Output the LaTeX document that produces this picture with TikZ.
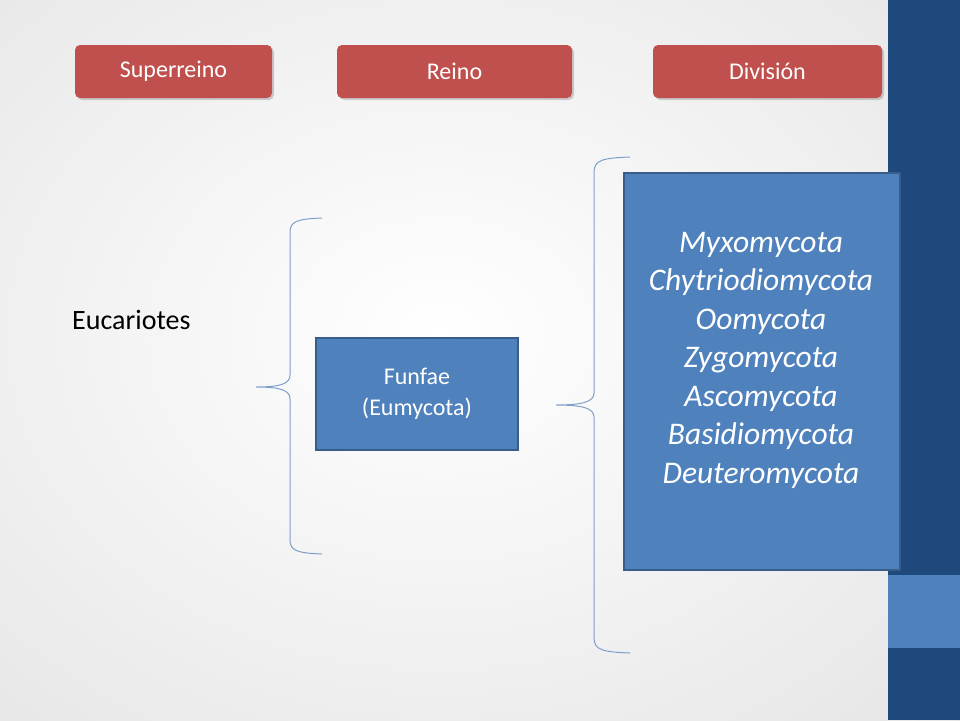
\documentclass[tikz,border=0pt]{standalone}
\usepackage{fontspec}
\setmainfont{Carlito}
\usetikzlibrary{shadows}

\definecolor{slidebar}{HTML}{1F497D}
\definecolor{slidelight}{HTML}{4F81BD}
\definecolor{headred}{HTML}{C0504D}
\definecolor{boxline}{HTML}{385D8A}
\definecolor{bracecol}{HTML}{7F9FCB}

\tikzset{
  header/.style={fill=headred, rounded corners=5pt, text=white, minimum height=53pt,
    font=\fontsize{24}{26}\selectfont, drop shadow={shadow xshift=2pt, shadow yshift=-2pt, opacity=0.35}},
  taxbox/.style={fill=slidelight, draw=boxline, line width=2pt, text=white, align=center},
  brace/.style={bracecol, line width=1pt},
}

\begin{document}
\begin{tikzpicture}[x=1pt,y=-1pt]

				% slide background
				\useasboundingbox (0,0) rectangle (960,720);
				\shade[inner color=white, outer color=black!12] (-420,-330) rectangle (1300,1000);
				\fill[slidebar] (888,0) rectangle (960,720);
				\fill[slidelight] (888,575) rectangle (960,648);

				% headers
				\node[header, minimum width=197pt] (super) at (173.5,71.5) {Superreino};
				\node[header, minimum width=235pt] (reino) at (454.5,71.5) {Reino};
				\node[header, minimum width=229pt] (div) at (767.5,71.5) {División};

				\node[font=\fontsize{28}{32}\selectfont, anchor=west, inner sep=0pt] (euc) at (72,320) {Eucariotes};

				% boxes
				\node[taxbox, minimum width=202pt, minimum height=112pt, font=\fontsize{24}{31}\selectfont] (fungi) at (417,393.5) {Funfae\\(Eumycota)};
				\node[taxbox, minimum width=276pt, minimum height=397pt] (phyla) at (761.5,371) {};
				\node[text=white, align=center, font=\fontsize{31.5}{38.5}\selectfont\itshape] (list) at (761,360) {Myxomycota\\Chytriodiomycota\\Oomycota\\Zygomycota\\Ascomycota\\Basidiomycota\\Deuteromycota};

				% braces
				\coordinate (la) at (322,218);
				\coordinate (lt) at (256,387);
				\coordinate (lb) at (322,554);
				\draw[brace] (la) .. controls (298,219) and (290,221) .. (290,232) -- (290,375)
				  .. controls (290,384) and (280,387) .. (lt)
				  .. controls (280,387) and (290,390) .. (290,399) -- (290,540)
				  .. controls (290,551) and (298,553) .. (lb);
				\coordinate (ra) at (630,157);
				\coordinate (rt) at (556,405);
				\coordinate (rb) at (630,653);
				\draw[brace] (ra) .. controls (603,158) and (594,160) .. (594,172) -- (594,393)
				  .. controls (594,402) and (582,405) .. (rt)
				  .. controls (582,405) and (594,408) .. (594,417) -- (594,638)
				  .. controls (594,650) and (603,652) .. (rb);
			\end{tikzpicture}
\end{document}
